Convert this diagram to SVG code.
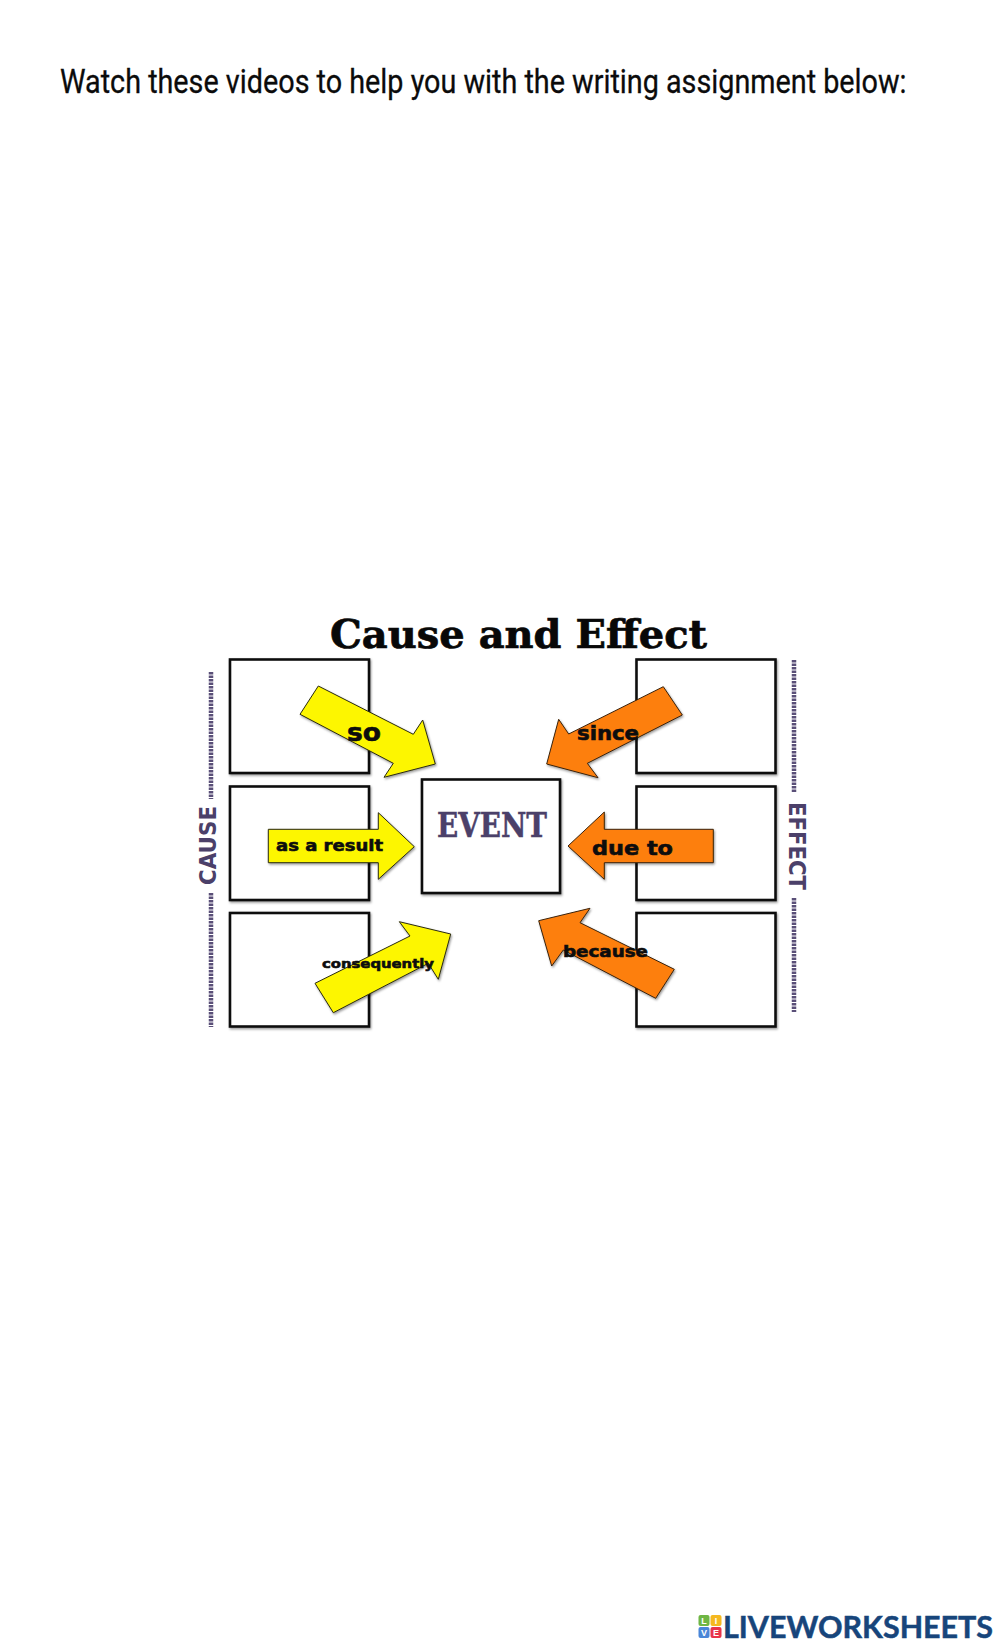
<svg xmlns="http://www.w3.org/2000/svg" width="1000" height="1647" viewBox="0 0 1000 1647">
<defs>
<filter id="sh" x="-20%" y="-20%" width="140%" height="140%"><feDropShadow dx="1" dy="1.5" stdDeviation="1.2" flood-color="#000" flood-opacity="0.4"/></filter>
</defs>
<style>
text{font-family:"DejaVu Sans","Liberation Sans",sans-serif}
.box{fill:#fff;stroke:#111;stroke-width:2.6;filter:url(#sh)}
.y{fill:#fdf600;stroke:#2a2a10;stroke-width:1;filter:url(#sh)}
.o{fill:#fd7f0c;stroke:#3a2208;stroke-width:1;filter:url(#sh)}
.lb{font-family:"DejaVu Sans","Liberation Sans",sans-serif;font-weight:700;fill:#0d0d0d;stroke:#0d0d0d;stroke-width:.6}
.pl{fill:none;stroke:#5a4f78;stroke-width:4.5;stroke-dasharray:2.5 1}
.side{font-family:"DejaVu Sans","Liberation Sans",sans-serif;font-weight:700;fill:#4b4069;font-size:23px}
.sq{font-family:"Liberation Sans",Arial,sans-serif;font-weight:700;font-size:9px;fill:#fff;text-anchor:middle}
</style>
<rect width="1000" height="1647" fill="#fff"/>
<text id="heading" transform="translate(60,93) scale(.88,1)" font-size="33" fill="#0b0b0b" stroke="#0b0b0b" stroke-width=".3" textLength="962" lengthAdjust="spacingAndGlyphs" style="font-family:'Roboto','Liberation Sans',sans-serif">Watch these videos to help you with the writing assignment below:</text>
<text id="title" x="330" y="648" font-size="40" fill="#080808" stroke="#080808" stroke-width=".7" font-weight="700" textLength="377" lengthAdjust="spacingAndGlyphs" style="font-family:'DejaVu Serif','Liberation Serif',serif">Cause and Effect</text>
<g id="cause-boxes">
<g id="cause-1"><rect class="box" x="230" y="659.500" width="139" height="113.500"/></g>
<g id="cause-2"><rect class="box" x="230" y="786.500" width="139" height="113.500"/></g>
<g id="cause-3"><rect class="box" x="230" y="913" width="139" height="113.500"/></g>
</g>
<g id="effect-boxes">
<g id="effect-1"><rect class="box" x="636.500" y="659.500" width="139" height="113.500"/></g>
<g id="effect-2"><rect class="box" x="636.500" y="786.500" width="139" height="113.500"/></g>
<g id="effect-3"><rect class="box" x="636.500" y="913" width="139" height="113.500"/></g>
</g>
<g id="event"><rect class="box" x="422" y="779.500" width="138" height="113.500"/>
<text x="437" y="837" font-size="33" fill="#4b4069" stroke="#4b4069" stroke-width=".5" font-weight="700" textLength="110" lengthAdjust="spacingAndGlyphs" style="font-family:'DejaVu Serif','Liberation Serif',serif">EVENT</text></g>
<g id="connectors">
<polygon class="y" points="318.300,686 300,714.300 393.300,763.300 384,777.300 435.300,764 422.700,720 413.300,734.300"/>
<polygon class="y" points="268.300,829.300 378.300,829.300 378.300,812.700 414.300,846.700 378.300,879.300 378.300,862.700 268.300,862.700"/>
<polygon class="y" points="315,983.300 410,936 399.300,921.700 450.700,934 438.300,979.300 428.300,963.300 333.300,1012.700"/>
<polygon class="o" points="663.300,686.700 682.300,715 587.300,763.300 598,777.700 546.700,764 558.700,719.300 568.700,734"/>
<polygon class="o" points="713.300,829.300 604.300,829.300 604.300,812 568,846 604.300,879.300 604.300,862.700 713.300,862.700"/>
<polygon class="o" points="674.300,969.300 655.700,998.300 563.300,950 551.700,966 538.700,920.700 590,908.300 580,922.700"/>
</g>
<g id="labels">
<text class="lb" x="347" y="740.500" font-size="25" textLength="34" lengthAdjust="spacingAndGlyphs">so</text>
<text class="lb" x="276" y="850.500" font-size="16" textLength="107" lengthAdjust="spacingAndGlyphs">as a result</text>
<text class="lb" x="322" y="967.500" font-size="13" textLength="112" lengthAdjust="spacingAndGlyphs">consequently</text>
<text class="lb" x="577" y="740" font-size="19" textLength="62" lengthAdjust="spacingAndGlyphs">since</text>
<text class="lb" x="592" y="855" font-size="20" textLength="81" lengthAdjust="spacingAndGlyphs">due to</text>
<text class="lb" x="563" y="957" font-size="16" textLength="85" lengthAdjust="spacingAndGlyphs">because</text>
</g>
<g id="cause-side">
<line class="pl" x1="211" y1="672" x2="211" y2="799"/>
<line class="pl" x1="211" y1="893" x2="211" y2="1027"/>
<text class="side" transform="translate(216,885) rotate(-90)" textLength="79" lengthAdjust="spacingAndGlyphs">CAUSE</text>
</g>
<g id="effect-side">
<line class="pl" x1="794" y1="660" x2="794" y2="793"/>
<line class="pl" x1="794" y1="898" x2="794" y2="1012"/>
<text class="side" transform="translate(789,802) rotate(90)" textLength="88" lengthAdjust="spacingAndGlyphs">EFFECT</text>
</g>
<g id="logo">
<rect x="698.500" y="1615" width="11" height="11" rx="2" fill="#6fb644"/><text class="sq" x="704" y="1624">L</text>
<rect x="710.500" y="1615" width="11" height="11" rx="2" fill="#f5b81f"/><text class="sq" x="716" y="1624">I</text>
<rect x="698.500" y="1627" width="11" height="11" rx="2" fill="#4a86d8"/><text class="sq" x="704" y="1636">V</text>
<rect x="710.500" y="1627" width="11" height="11" rx="2" fill="#e8344a"/><text class="sq" x="716" y="1636">E</text>
<text x="723" y="1638" font-size="31" font-weight="700" fill="#17457b" stroke="#17457b" stroke-width=".5" textLength="270" lengthAdjust="spacingAndGlyphs" style="font-family:Lato,'Liberation Sans',sans-serif">LIVEWORKSHEETS</text>
</g>
</svg>
